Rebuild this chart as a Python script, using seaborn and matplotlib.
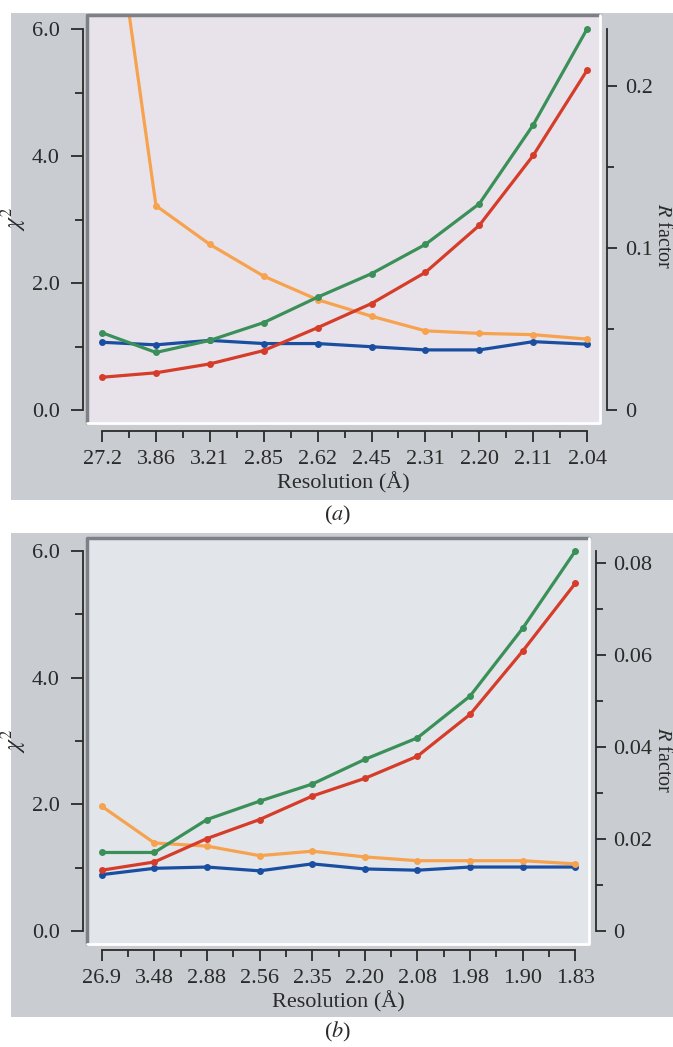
import numpy as np
import pandas as pd
import seaborn as sns
import matplotlib.pyplot as plt
from matplotlib.patches import Rectangle

# resolution bins (tick labels) for the two data sets
res_a = ['27.2', '3.86', '3.21', '2.85', '2.62', '2.45', '2.31', '2.20', '2.11', '2.04']
res_b = ['26.9', '3.48', '2.88', '2.56', '2.35', '2.20', '2.08', '1.98', '1.90', '1.83']

# values (chi^2 scale of the left axis)
green_a = [1.22, 0.91, 1.10, 1.38, 1.78, 2.15, 2.61, 3.25, 4.49, 6.00]
red_a = [0.52, 0.59, 0.73, 0.94, 1.30, 1.68, 2.17, 2.91, 4.01, 5.35]
orange_a = [9.27, 3.22, 2.61, 2.11, 1.74, 1.48, 1.25, 1.21, 1.19, 1.12]
blue_a = [1.07, 1.03, 1.10, 1.05, 1.05, 1.00, 0.95, 0.95, 1.08, 1.04]

green_b = [1.24, 1.24, 1.76, 2.05, 2.32, 2.71, 3.05, 3.71, 4.78, 6.00]
red_b = [0.96, 1.09, 1.46, 1.76, 2.13, 2.41, 2.76, 3.42, 4.42, 5.49]
orange_b = [1.97, 1.39, 1.34, 1.19, 1.26, 1.17, 1.11, 1.11, 1.11, 1.06]
blue_b = [0.89, 0.99, 1.01, 0.95, 1.06, 0.98, 0.96, 1.01, 1.01, 1.01]

# right axis (R factor) ticks
rticks_a = [0, 0.1, 0.2]
rlabels_a = ['0', '0.1', '0.2']
rticks_b = [0, 0.02, 0.04, 0.06, 0.08]
rlabels_b = ['0', '0.02', '0.04', '0.06', '0.08']

colors = {'green': '#3a9058', 'red': '#d63c2a', 'orange': '#f7a24e', 'blue': '#1a4ea0'}
ink = '#2a2a2a'
fs = 16

sns.set_theme(style='ticks')
plt.rcParams['font.family'] = ['Liberation Serif', 'DejaVu Serif']
plt.rcParams['mathtext.fontset'] = 'stix'

W, H = 673, 1047
fig = plt.figure(figsize=(W / 100, H / 100), dpi=100)
fig.patch.set_facecolor('white')


def px(x0, y0, x1, y1):
    return [x0 / W, 1 - y1 / H, (x1 - x0) / W, (y1 - y0) / H]


def panel(box, grey_box, face, labels, series, xlim, ylim, rmax, rticks, rlabels, rminor,
          spine_off, rpad, rlabel_y, caption_y, tag):
    gx0, gy0, gx1, gy1 = grey_box
    fig.patches.append(Rectangle((gx0 / W, 1 - gy1 / H), (gx1 - gx0) / W, (gy1 - gy0) / H,
                                 transform=fig.transFigure, facecolor='#c9ccd1',
                                 edgecolor='none', zorder=-10))
    ax = fig.add_axes(px(*box))
    ax.set_facecolor(face)
    n = len(labels)
    df = pd.DataFrame({'x': list(range(n)) * 4,
                       'y': sum([s for s in series], []),
                       'name': sum([[k] * n for k in ['blue', 'orange', 'red', 'green']], [])})
    sns.lineplot(data=df, x='x', y='y', hue='name', palette=colors, marker='o',
                 markersize=5, markeredgewidth=0, linewidth=2.3, legend=False, ax=ax)
    ax.set_xlim(*xlim)
    ax.set_ylim(*ylim)

    # bevelled frame of the plot area
    ax.plot([0, 0, 1], [0, 1, 1], transform=ax.transAxes, color='#7d8187', lw=2.5,
            clip_on=False, zorder=5)
    ax.plot([0, 1, 1], [0, 0, 1], transform=ax.transAxes, color='white', lw=2,
            clip_on=False, zorder=5)

    ax.spines['top'].set_visible(False)
    lo, ro, bo = spine_off
    ax.spines['left'].set_position(('outward', lo))
    ax.spines['left'].set_bounds(0, 6)
    ax.spines['bottom'].set_position(('outward', bo))
    ax.spines['bottom'].set_bounds(0, n - 1)
    ax.spines['right'].set_visible(False)
    for s in ['left', 'bottom']:
        ax.spines[s].set_linewidth(1.3)
        ax.spines[s].set_color(ink)

    ax.set_yticks([0, 2, 4, 6])
    ax.set_yticklabels(['0.0', '2.0', '4.0', '6.0'])
    ax.set_yticks([1, 3, 5], minor=True)
    ax.set_xticks(range(n))
    ax.set_xticklabels(labels)
    ax.set_xticks(np.arange(0.5, n - 1, 1.0), minor=True)
    ax.tick_params(axis='both', which='both', direction='out', width=1.3, color=ink,
                   labelsize=fs, labelcolor=ink)
    ax.tick_params(axis='y', which='major', length=8.6, pad=8)
    ax.tick_params(axis='y', which='minor', length=5.8)
    ax.tick_params(axis='x', which='major', length=8, pad=5.5)
    ax.tick_params(axis='x', which='minor', length=5)
    ax.set_xlabel('Resolution (Å)', fontsize=fs, color=ink, labelpad=2)
    ax.set_ylabel(r'$\chi^2$', fontsize=fs + 1, color=ink, labelpad=2)

    ax2 = ax.twinx()
    ax2.set_ylim(ylim[0] * rmax / 6, ylim[1] * rmax / 6)
    for s in ['top', 'left', 'bottom']:
        ax2.spines[s].set_visible(False)
    ax2.spines['right'].set_position(('outward', ro))
    ax2.spines['right'].set_bounds(0, rmax)
    ax2.spines['right'].set_linewidth(1.3)
    ax2.spines['right'].set_color(ink)
    ax2.set_yticks(rticks)
    ax2.set_yticklabels(rlabels)
    ax2.set_yticks(rminor, minor=True)
    ax2.tick_params(axis='y', which='both', direction='out', width=1.3, color=ink,
                    labelsize=fs, labelcolor=ink)
    ax2.tick_params(axis='y', which='major', length=7.2, pad=rpad)
    ax2.tick_params(axis='y', which='minor', length=5)
    ax2.grid(False)

    fig.text(662 / W, 1 - rlabel_y / H, r'$\mathit{R}$ factor', rotation=-90,
             ha='center', va='center', fontsize=fs - 1.5, color=ink)
    fig.text(338 / W, 1 - caption_y / H, '(' + r'$\mathit{' + tag + '}$' + ')',
             ha='center', va='center', fontsize=fs, color=ink)
    return ax


panel((87, 15, 600, 423), (11, 13, 673, 500), '#e8e3ea', res_a,
      [blue_a, orange_a, red_a, green_a], (-0.28, 9.24), (-0.2, 6.22),
      0.235, rticks_a, rlabels_a, [0.05, 0.15], (3, 5, 6), 6, 236, 515, 'a')

panel((87, 538, 589, 944), (11, 533, 673, 1017), '#e2e5e9', res_b,
      [blue_b, orange_b, red_b, green_b], (-0.28, 9.26), (-0.205, 6.205),
      0.0826, rticks_b, rlabels_b, [0.01, 0.03, 0.05, 0.07], (3, 5, 4.5), 5, 760, 1032, 'b')

fig.savefig('out.png', dpi=100)
